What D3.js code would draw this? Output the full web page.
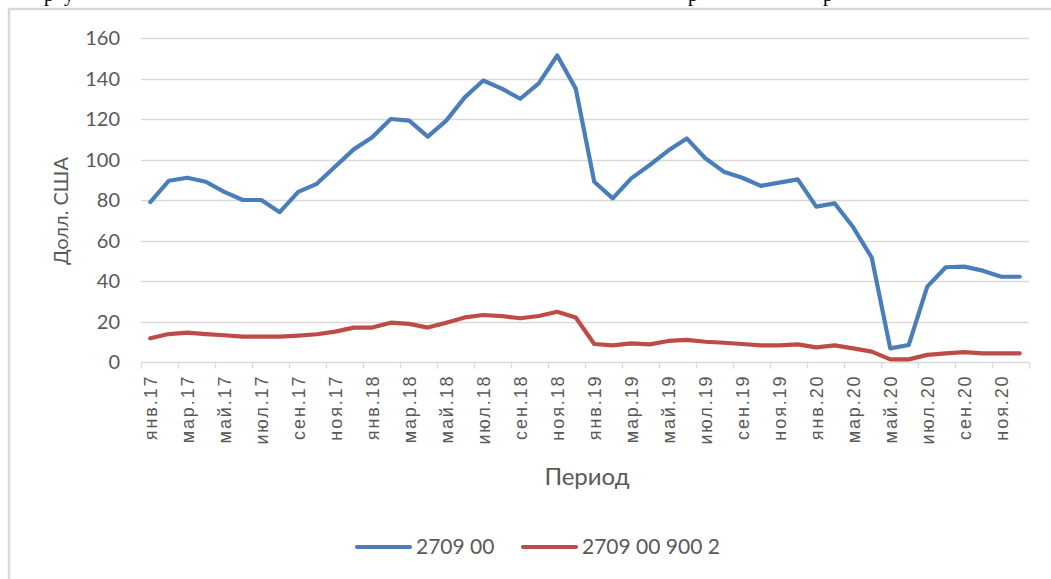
<!DOCTYPE html>
<html>
<head>
<meta charset="utf-8">
<script src="https://cdn.jsdelivr.net/npm/d3@7"></script>
<style>
  body { margin: 0; background: #fff; }
  svg { display: block; }
</style>
</head>
<body>
<div id="chart"></div>
<script>
"use strict";

// months Jan 2017 .. Dec 2020
var monthNames = ["янв", "фев", "мар", "апр", "май", "июн", "июл", "авг", "сен", "окт", "ноя", "дек"];
var years = ["17", "18", "19", "20"];

var series1 = [79, 89.5, 91, 89, 84, 80, 80, 74, 84, 88, 96.5, 105,
               111, 120, 119.2, 111.3, 119.2, 130.7, 139, 135, 130, 137.6, 151.4, 135,
               89, 80.8, 90.7, 97.3, 104.4, 110.4, 100.6, 94, 91, 87, 88.6, 90.2,
               76.7, 78.3, 66.5, 51.5, 6.7, 8.4, 37.2, 46.8, 47.1, 45.1, 42.1, 42.1];
var series2 = [11.7, 13.8, 14.5, 13.8, 13.2, 12.5, 12.5, 12.5, 13, 13.7, 15, 17,
               17, 19.4, 18.8, 17, 19.4, 22, 23.2, 22.7, 21.6, 22.7, 24.8, 22,
               8.9, 8.2, 9.2, 8.7, 10.4, 10.9, 10, 9.5, 8.9, 8.2, 8.2, 8.7,
               7.2, 8.2, 6.7, 5.1, 1.3, 1.3, 3.5, 4.3, 4.9, 4.3, 4.3, 4.3];
var seriesNames = ["2709 00", "2709 00 900 2"];
var colors = ["#4a7ebb", "#be4b48"];
var yTicks = [0, 20, 40, 60, 80, 100, 120, 140, 160];

var categories = [];
years.forEach(function(y) {
    monthNames.forEach(function(m) { categories.push(m + "." + y); });
});

var width = 1051, height = 579;
var margin = { left: 141, right: 21, top: 38, bottom: 217 };

var svg = d3.select("#chart").append("svg")
    .attr("width", width)
    .attr("height", height);

// frame of the embedded chart
svg.append("path")
    .attr("d", "M9,579V9H1051")
    .attr("fill", "none")
    .attr("stroke", "#d9d9d9")
    .attr("stroke-width", 2.5);

// cut-off line of document text above the chart (only descenders show)
var topText = [["р", 44], ["у", 64], ["р", 688], ["р", 823]];
svg.selectAll(".doc")
    .data(topText)
    .enter().append("text")
    .attr("x", function(d) { return d[1]; })
    .attr("y", 1)
    .attr("font-family", "Liberation Serif")
    .attr("font-size", 20)
    .attr("fill", "#000")
    .text(function(d) { return d[0]; });

var x = d3.scaleBand()
    .domain(categories)
    .range([margin.left, width - margin.right - 1]);
var y = d3.scaleLinear()
    .domain([0, 160])
    .range([height - margin.bottom, margin.top]);

// grid
svg.append("g")
    .selectAll("line")
    .data(yTicks.slice(1))
    .enter().append("line")
    .attr("x1", x.range()[0])
    .attr("x2", x.range()[1])
    .attr("y1", function(d) { return Math.round(y(d)) + 0.5; })
    .attr("y2", function(d) { return Math.round(y(d)) + 0.5; })
    .attr("stroke", "#d9d9d9")
    .attr("stroke-width", 1.3);

// y labels
svg.append("g")
    .selectAll("text")
    .data(yTicks)
    .enter().append("text")
    .attr("x", 120)
    .attr("y", function(d) { return y(d); })
    .attr("dy", "0.35em")
    .attr("text-anchor", "end")
    .attr("font-family", "Lato")
    .attr("font-size", 20)
    .attr("fill", "#595959")
    .text(function(d) { return d; });

// x axis
var xAxisY = Math.round(y(0)) + 0.5;
svg.append("line")
    .attr("x1", x.range()[0]).attr("x2", x.range()[1])
    .attr("y1", xAxisY).attr("y2", xAxisY)
    .attr("stroke", "#d9d9d9").attr("stroke-width", 1.3);

var tickPos = d3.range(0, categories.length + 1, 2).map(function(i) {
    return i < categories.length ? x(categories[i]) : x.range()[1];
});
svg.append("g")
    .selectAll("line")
    .data(tickPos)
    .enter().append("line")
    .attr("x1", function(d) { return Math.round(d) + 0.5; })
    .attr("x2", function(d) { return Math.round(d) + 0.5; })
    .attr("y1", xAxisY)
    .attr("y2", xAxisY + 6)
    .attr("stroke", "#d9d9d9")
    .attr("stroke-width", 1.3);

svg.append("g")
    .selectAll("text")
    .data(categories.filter(function(d, i) { return i % 2 === 0; }))
    .enter().append("text")
    .attr("transform", function(d) {
        return "translate(" + (x(d) + x.bandwidth() / 2) + "," + (xAxisY + 12) + ") rotate(-90)";
    })
    .attr("text-anchor", "end")
    .attr("dy", "0.35em")
    .attr("font-family", "Liberation Sans")
    .attr("font-size", 18)
    .attr("letter-spacing", 1.9)
    .attr("fill", "#595959")
    .text(function(d) { return d; });

// lines
var line = d3.line()
    .x(function(d, i) { return x(categories[i]) + x.bandwidth() / 2; })
    .y(function(d) { return y(d); });

[series1, series2].forEach(function(s, k) {
    svg.append("path")
        .datum(s)
        .attr("d", line)
        .attr("fill", "none")
        .attr("stroke", colors[k])
        .attr("stroke-width", 4.2)
        .attr("stroke-linejoin", "round")
        .attr("stroke-linecap", "round");
});

// axis titles
svg.append("text")
    .attr("transform", "translate(68,211) rotate(-90)")
    .attr("text-anchor", "middle")
    .attr("font-family", "Lato")
    .attr("font-size", 20)
    .attr("fill", "#595959")
    .text("Долл. США");

svg.append("text")
    .attr("x", 587)
    .attr("y", 485)
    .attr("text-anchor", "middle")
    .attr("font-family", "Lato")
    .attr("font-size", 24)
    .attr("fill", "#595959")
    .text("Период");

// legend
var legendX = [357, 523];
var legend = svg.selectAll(".legend")
    .data(seriesNames)
    .enter().append("g")
    .attr("transform", function(d, i) { return "translate(" + legendX[i] + ",547)"; });
legend.append("line")
    .attr("x1", 0).attr("x2", 53)
    .attr("stroke", function(d, i) { return colors[i]; })
    .attr("stroke-width", 4.2)
    .attr("stroke-linecap", "round");
legend.append("text")
    .attr("x", 59)
    .attr("dy", "0.35em")
    .attr("font-family", "Lato")
    .attr("font-size", 21)
    .attr("fill", "#595959")
    .text(function(d) { return d; });
</script>
</body>
</html>
